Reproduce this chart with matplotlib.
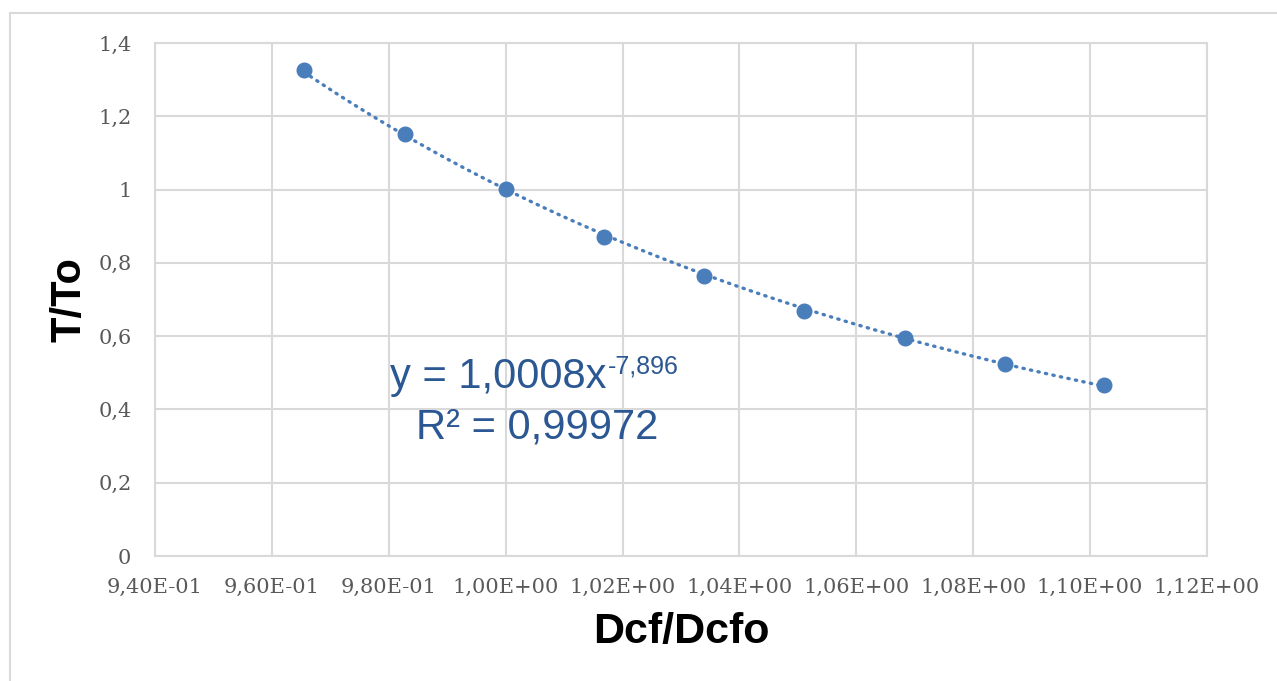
import numpy as np
import matplotlib
matplotlib.use("Agg")
import matplotlib.pyplot as plt
from matplotlib.ticker import FuncFormatter
from matplotlib.patches import Rectangle
from matplotlib.transforms import ScaledTranslation

# Measured ratios
dcf_ratio = [0.9655, 0.9828, 1.0000, 1.0168, 1.0339, 1.0511, 1.0683, 1.0854, 1.1024]
t_ratio = [1.326, 1.152, 1.001, 0.871, 0.764, 0.669, 0.595, 0.524, 0.467]

# Power-law trendline y = a * x^b
fit_a = 1.0008
fit_b = -7.896
fit_r2 = 0.99972

x_ticks = [0.94, 0.96, 0.98, 1.00, 1.02, 1.04, 1.06, 1.08, 1.10, 1.12]
y_ticks = [0, 0.2, 0.4, 0.6, 0.8, 1.0, 1.2, 1.4]

W, H, DPI = 1277, 681, 100
fig = plt.figure(figsize=(W / DPI, H / DPI), dpi=DPI)
fig.patch.set_facecolor("white")

# Chart-area frame
fig.patches.append(Rectangle((10 / W, -0.05), 1.2, (H - 13) / H + 0.05,
                             transform=fig.transFigure, fill=False,
                             edgecolor="#d9d9d9", linewidth=1.5, zorder=0))

ax = fig.add_axes([155 / W, 1 - 556 / H, (1207 - 155) / W, (556 - 43) / H])

grid_c = "#d9d9d9"
for s in ax.spines.values():
    s.set_color(grid_c)
    s.set_linewidth(1.5)

ax.set_xlim(0.94, 1.12)
ax.set_ylim(0, 1.4)
ax.set_xticks(x_ticks)
ax.set_yticks(y_ticks)
ax.grid(True, color=grid_c, linewidth=1.5)
ax.set_axisbelow(True)
ax.tick_params(length=0, labelsize=15, labelcolor="#595959")
ax.tick_params(axis="x", pad=16)
ax.tick_params(axis="y", pad=17)


def sci_comma(v, _):
    return f"{v:.2E}".replace(".", ",")


def dec_comma(v, _):
    s = f"{v:.1f}".rstrip("0").rstrip(".")
    return s.replace(".", ",")


ax.xaxis.set_major_formatter(FuncFormatter(sci_comma))
ax.yaxis.set_major_formatter(FuncFormatter(dec_comma))
for lab in ax.get_xticklabels() + ax.get_yticklabels():
    lab.set_fontfamily("DejaVu Serif")

color = "#4A7EBB"
xs = np.linspace(min(dcf_ratio), max(dcf_ratio), 200)
ax.plot(xs, fit_a * xs ** fit_b, color=color, linewidth=2.4,
        linestyle=(0, (0.4, 1.9)), dash_capstyle="round", zorder=2)
ax.plot(dcf_ratio, t_ratio, "o", color=color, markersize=10.5, zorder=3)

ax.set_xlabel("Dcf/Dcfo", fontsize=31, fontweight="bold",
              fontfamily="Liberation Sans", labelpad=11)
ax.set_ylabel("T/To", fontsize=30, fontweight="bold",
              fontfamily="Liberation Sans", labelpad=6)

# Trendline equation
eq_color = "#2B5893"
main = ax.text(0.2234, 0.3275, "y = 1,0008x", transform=ax.transAxes,
               ha="left", va="baseline", fontsize=30, color=eq_color,
               fontfamily="Liberation Sans")
fig.canvas.draw()
bb = main.get_window_extent()
x_end = ax.transAxes.inverted().transform((bb.x1, 0))[0]
ax.text(x_end, 0.3275, f"{fit_b}".replace(".", ","),
        transform=ax.transAxes + ScaledTranslation(1 / DPI, 14 / DPI, fig.dpi_scale_trans),
        ha="left", va="baseline", fontsize=18, color=eq_color,
        fontfamily="Liberation Sans")
ax.text(0.3631, 0.230, f"R² = {fit_r2}".replace(".", ","),
        transform=ax.transAxes, ha="center", va="baseline", fontsize=30,
        color=eq_color, fontfamily="Liberation Sans")

fig.savefig("out.png", dpi=DPI)
